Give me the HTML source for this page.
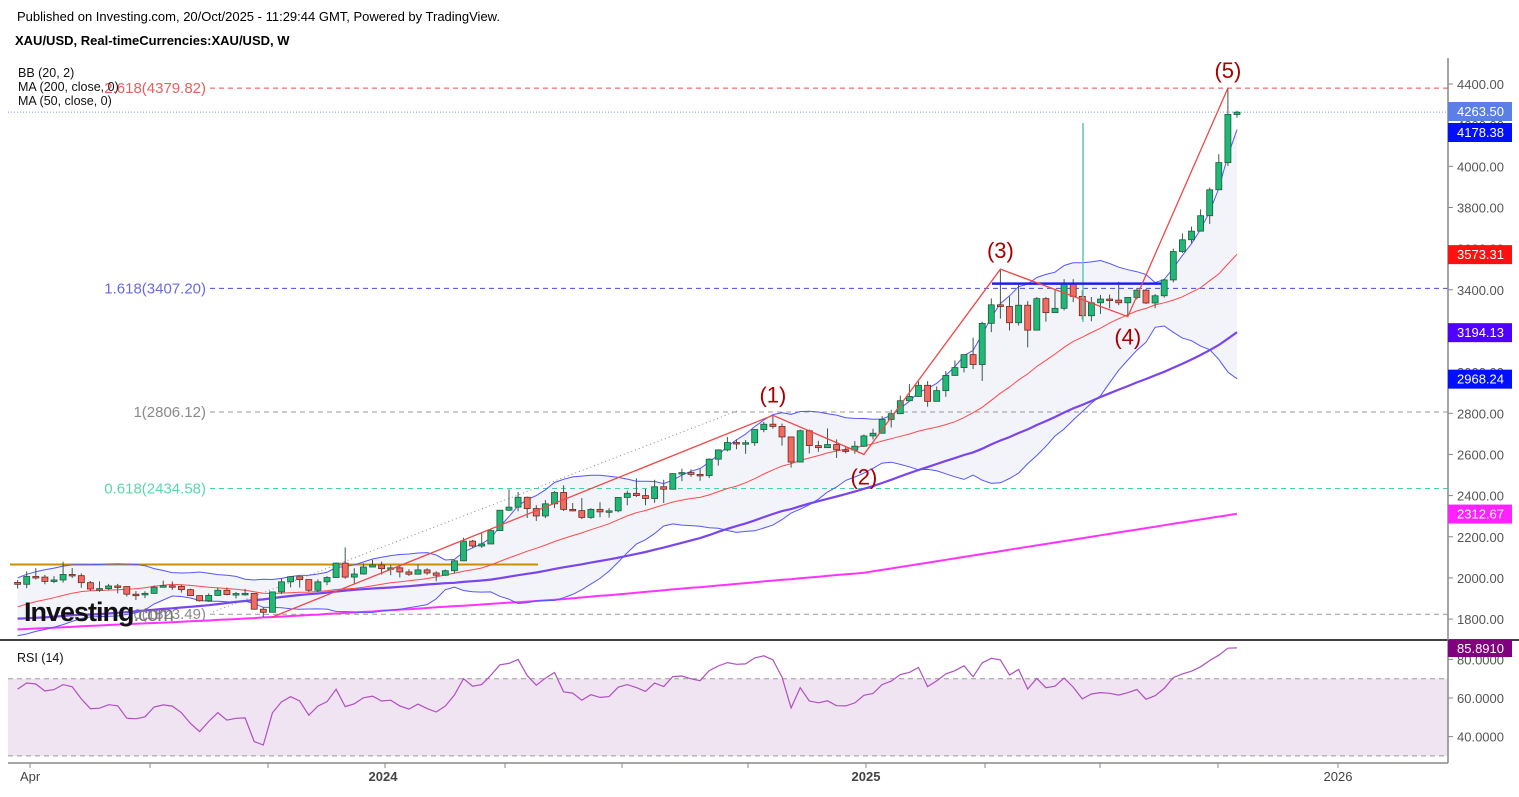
<!DOCTYPE html>
<html><head><meta charset="utf-8">
<style>
html,body{margin:0;padding:0;background:#fff;}
body{width:1519px;height:792px;overflow:hidden;font-family:"Liberation Sans",sans-serif;}
svg text{font-family:"Liberation Sans",sans-serif;}
</style></head>
<body>
<svg id="chart" width="1519" height="792" xmlns="http://www.w3.org/2000/svg">
<defs><clipPath id="mainclip"><rect x="0" y="58" width="1448" height="581"/></clipPath>
<clipPath id="rsiclip"><rect x="0" y="642" width="1448" height="121"/></clipPath></defs>
<text x="17" y="21" font-size="13" fill="#000">Published on Investing.com, 20/Oct/2025 - 11:29:44 GMT, Powered by TradingView.</text>
<text x="15" y="45" font-size="13" font-weight="bold" fill="#000">XAU/USD, Real-timeCurrencies:XAU/USD, W</text>
<g id="main" clip-path="url(#mainclip)"></g>
<g id="overlay"></g>
<g id="rsi" clip-path="url(#rsiclip)"></g>
<g id="axes"></g>
</svg>
<script>
const NS="http://www.w3.org/2000/svg";
// ---- data (weekly XAU/USD, Mar 27 2023 .. Oct 20 2025) ----
const priorCloses=[1931,1896,1883,1811,1846,1853,1850,1871,1840,1827,1811,1742,1708,1727,1766,1775,1802,1747,1738,1712,1717,1675,1644,1660,1695,1644,1656,1644,1681,1770,1751,1754,1797,1797,1793,1798,1824,1865,1920,1926,1928,1865,1865,1841,1811,1856,1868,1989,1978];
const closes=[1969,2007,2004,1983,1990,2017,2011,1977,1946,1948,1961,1958,1921,1919,1925,1955,1962,1959,1943,1914,1889,1915,1940,1919,1924,1925,1848,1833,1932,1981,2006,1992,1940,1981,2002,2072,2004,2019,2053,2063,
2045,2049,2029,2018,2039,2024,2013,2035,2083,2179,2155,2165,2230,2329,2344,2392,2337,2301,2360,2415,2333,2327,2294,2333,2321,2326,2391,2411,2400,2386,2443,2431,2507,2512,2503,2497,2577,2622,2658,2653,2657,2721,2747,2736,2685,2563,2715,2643,2633,2648,2622,2621,
2640,2690,2703,2770,2798,2861,2882,2936,2858,2910,2984,3022,3085,3037,3237,3327,3319,3240,3325,3204,3357,3289,3310,3433,3368,3274,3337,3355,3350,3337,3363,3398,3336,3371,3448,3586,3643,3685,3760,3886,4018,4252,4263];
const highs=[1990,2032,2048,2015,2009,2079,2048,2022,1985,1983,1971,1971,1958,1936,1935,1963,1987,1983,1968,1948,1914,1925,1953,1953,1932,1947,1926,1857,1932,1997,2009,2003,1992,1993,2008,2075,2148,2047,2071,2088,
2079,2062,2062,2042,2065,2047,2032,2041,2088,2195,2185,2223,2236,2330,2431,2418,2395,2353,2378,2422,2450,2364,2388,2339,2368,2339,2392,2424,2484,2432,2477,2477,2509,2531,2528,2529,2581,2625,2685,2673,2670,2722,2758,2790,2750,2685,2721,2721,2666,2726,2673,2640,
2665,2697,2725,2786,2817,2886,2942,2955,2956,2930,3005,3057,3086,3167,3245,3358,3500,3367,3435,3345,3365,3365,3403,3452,3452,3398,3365,3375,3377,3439,3363,3409,3404,3379,3453,3600,3674,3707,3791,3897,4059,4380,4270];
const lows=[1949,1950,1992,1969,1975,1977,2000,1952,1937,1932,1940,1925,1910,1893,1902,1922,1953,1942,1929,1912,1885,1884,1913,1915,1900,1914,1846,1810,1833,1922,1954,1953,1932,1931,1965,2001,1996,1973,2016,2054,
2016,2013,2002,2010,2017,2015,1984,2010,2024,2083,2146,2146,2164,2228,2325,2324,2291,2277,2291,2340,2325,2323,2286,2287,2295,2293,2319,2353,2393,2353,2365,2364,2431,2470,2491,2472,2485,2546,2615,2625,2603,2642,2708,2725,2643,2536,2563,2605,2613,2631,2583,2605,
2603,2636,2673,2702,2731,2796,2860,2880,2832,2860,2880,2982,2999,3015,2957,3194,3260,3202,3226,3120,3204,3245,3295,3300,3340,3255,3247,3283,3310,3325,3268,3353,3331,3311,3362,3436,3579,3628,3683,3720,3885,4002,4236];
const ma200=[1750,1752,1754,1756,1758,1760,1762,1765,1767,1769,1771,1773,1775,1777,1779,1781,1783,1785,1787,1789,1791,
1793,1796,1798,1800,1803,1805,1808,1810,1812,1815,1817,1820,1822,1825,1827,1830,1832,1835,1837,1840,
1843,1846,1848,1851,1854,1857,1860,1863,1865,1868,1871,1874,1877,1880,1882,1885,1888,1891,1894,1897,
1901,1905,1909,1913,1916,1920,1924,1928,1932,1936,1940,1944,1948,1952,1955,1959,1963,1967,1971,1975,1979,1983,1987,1991,1994,1998,2002,2006,2010,2014,2018,2021,2025,
2032,2039,2046,2053,2060,2067,2074,2081,2088,2095,2102,2109,2116,2123,2130,2137,2144,2151,2158,2165,2172,2179,2186,2193,2200,2207,2214,2221,2228,2235,2242,2249,2256,2263,2270,2277,2284,2291,2298,2305,2312];
const priceTicks=[4400,4200,4000,3800,3600,3400,3200,3000,2800,2600,2400,2200,2000,1800];
const rsiTicks=[80,60,40];
const timeLabels=["Apr","2024","2025","2026"];
const timeLabelX=[30,383,866,1338];
const fibLevels=[4379.82,3407.20,2806.12,2434.58,1823.49];
const fibNames=["2.618(4379.82)","1.618(3407.20)","1(2806.12)","0.618(2434.58)","0(1823.49)"];
const waveIdx=[83,93,108,122,133];
const waveLabels=["(1)","(2)","(3)","(4)","(5)"];
const wavePrices=[1810,2790,2600,3500,3270,4380];
const waveStart=28;

// ---- scales ----
const N=closes.length, step=9.1, xEnd=1237;
const x=i=>xEnd-(N-1-i)*step;
const y=p=>84+(4400-p)*0.2058;
const ry=r=>698-(r-60)*1.93;

function el(tag,attrs,parent,text){const e=document.createElementNS(NS,tag);for(const k in attrs)e.setAttribute(k,attrs[k]);if(text!==undefined)e.textContent=text;parent.appendChild(e);return e;}
const main=document.getElementById('main'),ov=document.getElementById('overlay'),rsiG=document.getElementById('rsi'),ax=document.getElementById('axes');

const all=priorCloses.concat(closes), P=priorCloses.length;
function sma(n,i){let s=0;for(let k=0;k<n;k++)s+=all[P+i-k];return s/n;}
function sd(n,i,m){let s=0;for(let k=0;k<n;k++){const d=all[P+i-k]-m;s+=d*d;}return Math.sqrt(s/n);}
const bbMid=[],bbUp=[],bbLo=[],ma50=[];
for(let i=0;i<N;i++){const m=sma(20,i),s=sd(20,i,m);bbMid.push(m);bbUp.push(m+2*s);bbLo.push(m-2*s);ma50.push(sma(50,i));}
const line=arr=>arr.map((v,i)=>(i?'L':'M')+x(i).toFixed(1)+','+y(v).toFixed(1)).join('');

// BB fill
let fd=line(bbUp);for(let i=N-1;i>=0;i--)fd+='L'+x(i).toFixed(1)+','+y(bbLo[i]).toFixed(1);fd+='Z';
const bf=el('path',{d:fd,fill:'#f3f3fa',stroke:'none'},main);



// fib dashed levels
const fibColors=['#e84c4c','#4a4ad8','#999','#3fd6a4','#999'];
const fibTextCol=['#e86060','#6a6ae0','#8a8a8a','#5ed6aa','#8a8a8a'];
fibLevels.forEach((v,k)=>{
 const l=el('line',{x1:210,x2:1448,y1:y(v),y2:y(v),stroke:fibColors[k],'stroke-width':1,'stroke-dasharray':'5,4'},main);
 
 
 const t=el('text',{x:206,y:y(v)+5,'text-anchor':'end','font-size':15,fill:fibTextCol[k]},main,fibNames[k]);
 
 
});
// current price dotted
const cp=el('line',{x1:8,x2:1448,y1:y(4263.5),y2:y(4263.5),stroke:'#7a9af0','stroke-width':1,'stroke-dasharray':'1,2'},main);


// orange horizontal
const oh=el('line',{x1:10,x2:538,y1:y(2065),y2:y(2065),stroke:'#c89000','stroke-width':2},main);


// grey dotted trendline
const gt=el('line',{x1:213,y1:612,x2:737,y2:411,stroke:'#888','stroke-width':1,'stroke-dasharray':'1,3'},main);



// MA / BB lines
const lines=[[ma200,'#ff33ff',2,'ma200-line'],[ma50,'#7a44ee',2.2,'ma50-line'],[bbLo,'#5555ff',1,'bb-lower-line'],[bbUp,'#5555ff',1,'bb-upper-line'],[bbMid,'#ff4a4a',1,'bb-basis-line']];
lines.forEach(L=>{const p=el('path',{d:line(L[0]),fill:'none',stroke:L[1],'stroke-width':L[2]},main);
 
 });

// candles
for(let i=0;i<N;i++){
 const o=i?closes[i-1]:1978, c=closes[i], up=c>=o, cx=x(i);
 const g=el('g',{},main);
 
 
 el('line',{x1:cx,x2:cx,y1:y(highs[i]),y2:y(lows[i]),stroke:'#3c5a48','stroke-width':1},g);
 const top=y(Math.max(o,c)),h=Math.max(1.5,Math.abs(y(o)-y(c)));
 el('rect',{x:cx-3,y:top,width:6,height:h,fill:up?'#1fb876':'#f26a60',stroke:up?'#1d5c3c':'#6a2a20','stroke-width':0.8},g);
}

// teal vertical
const tv=el('line',{x1:1083,x2:1083,y1:123,y2:322,stroke:'#5fc8b8','stroke-width':1.5},main);


// blue horizontal
const bh=el('line',{x1:992,x2:1161,y1:y(3430),y2:y(3430),stroke:'#2020ee','stroke-width':2.5},main);



// Elliott wave path
let wd='M'+x(waveStart)+','+y(wavePrices[0]);
waveIdx.forEach((wi,k)=>{wd+='L'+x(wi).toFixed(1)+','+y(wavePrices[k+1]).toFixed(1);});
const wp=el('path',{d:wd,fill:'none',stroke:'#f04848','stroke-width':1.3},main);


const lblOff=[-13,30,-11,28,-10];
waveIdx.forEach((wi,k)=>{
 const t=el('text',{x:x(wi),y:y(wavePrices[k+1])+lblOff[k],'text-anchor':'middle','font-size':22,fill:'#a80000'},main,waveLabels[k]);
 
 
});

// legend
['BB (20, 2)','MA (200, close, 0)','MA (50, close, 0)'].forEach((s,k)=>{
 const t=el('text',{x:18,y:77+k*14,'font-size':12.5,fill:'#111'},ov,s);
 
 
});
// logo
const logo=el('text',{x:24,y:621,'font-size':27,'font-weight':'bold',fill:'#111','letter-spacing':'-1'},ov);


el('tspan',{},logo,'Investing');el('tspan',{fill:'#777','font-size':20,'font-weight':'normal'},logo,'.com');

// separator
const sep=el('line',{x1:0,x2:1519,y1:640,y2:640,stroke:'#000','stroke-width':1.5},ax);



// RSI
const rb=el('rect',{x:8,y:ry(70),width:1440,height:ry(30)-ry(70),fill:'#f0e4f2'},rsiG);


[70,30].forEach(v=>{const l=el('line',{x1:8,x2:1448,y1:ry(v),y2:ry(v),stroke:'#999','stroke-dasharray':'5,4'},rsiG);
 
 });
let ag=0,al=0;
for(let k=1;k<=14;k++){const d=all[k]-all[k-1];if(d>0)ag+=d;else al-=d;}ag/=14;al/=14;
const rsiVals=[];
for(let k=15;k<all.length;k++){const d=all[k]-all[k-1];ag=(ag*13+Math.max(d,0))/14;al=(al*13+Math.max(-d,0))/14;if(k>=P)rsiVals.push(100-100/(1+ag/al));}
const rp=el('path',{d:rsiVals.map((v,i)=>(i?'L':'M')+x(i).toFixed(1)+','+ry(v).toFixed(1)).join(''),fill:'none',stroke:'#b050c0','stroke-width':1.2},rsiG);


const rl=el('text',{x:17,y:662,'font-size':12.5,fill:'#111'},ax,'RSI (14)');



// axes
const ya=el('line',{x1:1448,x2:1448,y1:58,y2:763,stroke:'#888','stroke-width':1.5},ax);


const xa=el('line',{x1:8,x2:1448,y1:763,y2:763,stroke:'#888','stroke-width':1.5},ax);


priceTicks.forEach(v=>{el('line',{x1:1448,x2:1453,y1:y(v),y2:y(v),stroke:'#888'},ax);
 const t=el('text',{x:1457,y:y(v)+5,'font-size':13,fill:'#555'},ax,v.toFixed(2));
 
 });
rsiTicks.forEach(v=>{el('line',{x1:1448,x2:1453,y1:ry(v),y2:ry(v),stroke:'#888'},ax);
 const t=el('text',{x:1457,y:ry(v)+5,'font-size':13,fill:'#555'},ax,v.toFixed(4));
 
 });
[30,150,268,385,505,622,748,866,985,1100,1218,1338].forEach(tx=>el('line',{x1:tx,x2:tx,y1:763,y2:768,stroke:'#888'},ax));
timeLabels.forEach((s,k)=>{const t=el('text',{x:timeLabelX[k],y:781,'text-anchor':'middle','font-size':13,fill:'#444','font-weight':k==1||k==2?'bold':'normal'},ax,s);
 if(k==0){t.setAttribute('x',20);t.setAttribute('text-anchor','start');}
 
 });

// last value tags
const tagVals=[4263.50,4178.38,3573.31,3194.13,2968.24,2312.67];
const tagCols=['#5b7fe6','#0010ff','#ff1010','#5000ff','#0010ff','#ff22ff'];
tagVals.forEach((v,k)=>{
 const g=el('g',{},ax);
 
 
 const yy=k==0?111:(k==1?132:y(v));
 el('rect',{x:1448,y:yy-9,width:64,height:19,fill:tagCols[k]},g);
 el('text',{x:1457,y:yy+5,'font-size':13,fill:'#fff'},g,v.toFixed(2));
});
const rt=el('g',{},ax);


el('rect',{x:1448,y:640,width:64,height:17,fill:'#800080'},rt);
el('text',{x:1457,y:653,'font-size':13,fill:'#fff'},rt,'85.8910');
</script>
</body></html>
